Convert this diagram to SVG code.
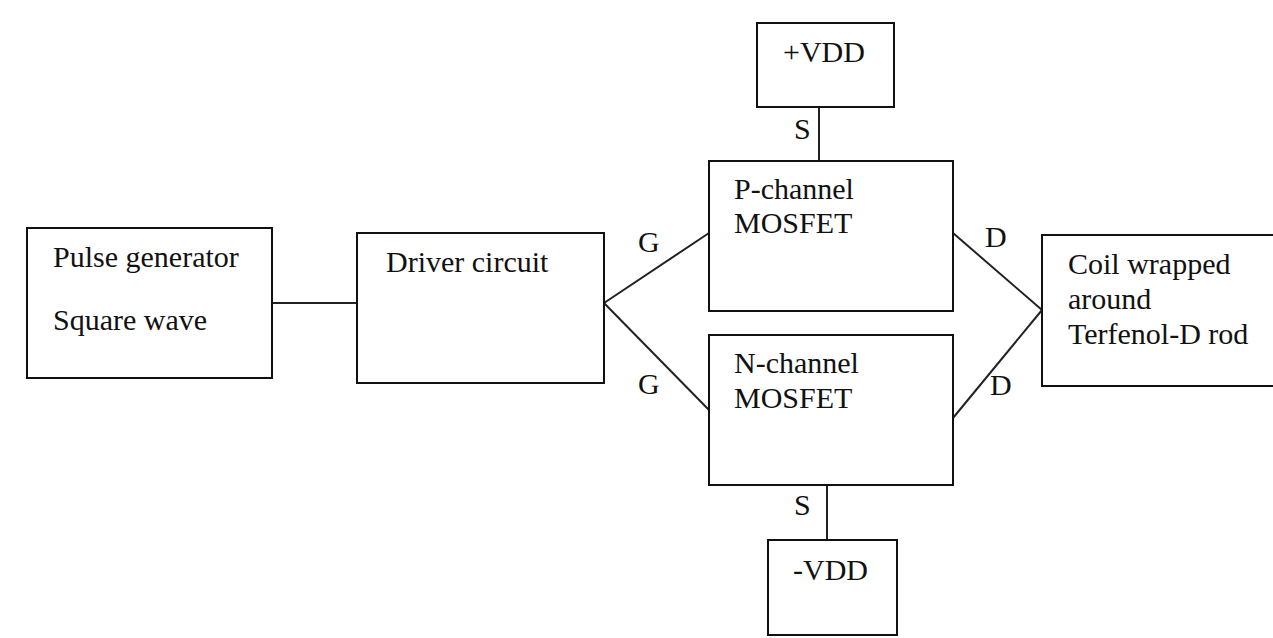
<svg xmlns="http://www.w3.org/2000/svg" width="1273" height="638" viewBox="0 0 1273 638" font-family="Liberation Serif, Times New Roman, serif" font-size="30">
<style>
.box{fill:#fff;stroke:#111;stroke-width:2}
.wire{fill:none;stroke:#222;stroke-width:2}
.t{font-family:Liberation Serif, Times New Roman, serif;font-size:30px;fill:#111}
</style>
<rect width="1273" height="638" fill="#fff"/>
<g id="connectors">
<line class="wire" x1="272" y1="303" x2="357" y2="303"/>
<line class="wire" x1="604" y1="303" x2="709" y2="233"/>
<line class="wire" x1="604" y1="303" x2="709" y2="410"/>
<line class="wire" x1="819" y1="107" x2="819" y2="161"/>
<line class="wire" x1="827" y1="485" x2="827" y2="540"/>
<line class="wire" x1="953" y1="233" x2="1042" y2="310"/>
<line class="wire" x1="953" y1="418" x2="1042" y2="310"/>
<text class="t" x="638" y="252">G</text>
<text class="t" x="638" y="394">G</text>
<text class="t" x="794" y="139">S</text>
<text class="t" x="794" y="515">S</text>
<text class="t" x="985" y="247">D</text>
<text class="t" x="990" y="395">D</text>
</g>
<g id="pulse">
<rect class="box" x="27" y="228" width="245" height="150"/>
<text class="t" x="53" y="267">Pulse generator</text>
<text class="t" x="53" y="330">Square wave</text>
</g>
<g id="driver">
<rect class="box" x="357" y="233" width="247" height="150"/>
<text class="t" x="386" y="272">Driver circuit</text>
</g>
<g id="vdd">
<rect class="box" x="757" y="23" width="137" height="84"/>
<text class="t" x="783" y="62">+VDD</text>
</g>
<g id="pmos">
<rect class="box" x="709" y="161" width="244" height="150"/>
<text class="t" x="734" y="199">P-channel</text>
<text class="t" x="734" y="233">MOSFET</text>
</g>
<g id="nmos">
<rect class="box" x="709" y="335" width="244" height="150"/>
<text class="t" x="734" y="373">N-channel</text>
<text class="t" x="734" y="408">MOSFET</text>
</g>
<g id="nvdd">
<rect class="box" x="768" y="540" width="129" height="95"/>
<text class="t" x="793" y="580">-VDD</text>
</g>
<g id="coil">
<rect class="box" x="1042" y="235" width="250" height="151"/>
<text class="t" x="1068" y="274">Coil wrapped</text>
<text class="t" x="1068" y="309">around</text>
<text class="t" x="1068" y="344">Terfenol-D rod</text>
</g>
</svg>
